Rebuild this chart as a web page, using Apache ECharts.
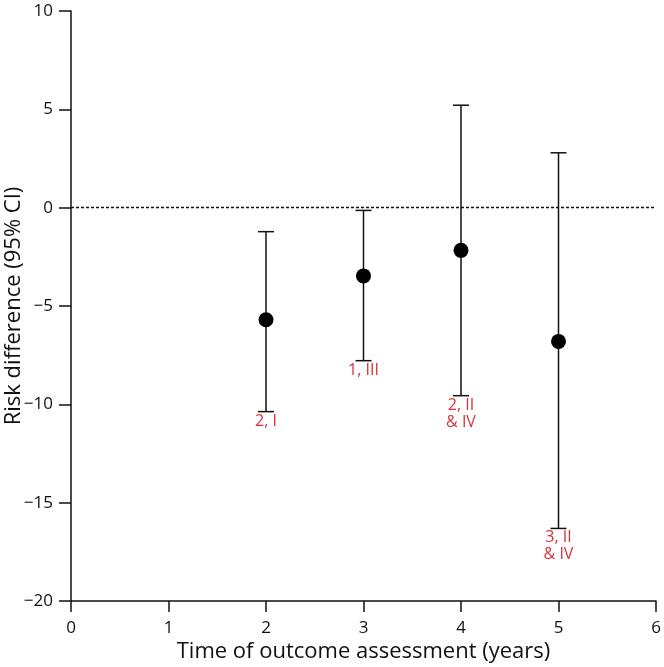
<!DOCTYPE html>
<html>
<head>
<meta charset="utf-8">
<script src="https://cdn.jsdelivr.net/npm/echarts@6/dist/echarts.min.js"></script>
<style>html,body{margin:0;padding:0;background:#fff}#c{width:664px;height:667px}</style>
</head>
<body>
<div id="c"></div>
<script>
// Data
const years = [2, 3, 4, 5];
const riskDiff = [-5.70, -3.47, -2.17, -6.80];
const ciLow = [-10.37, -7.78, -9.56, -16.31];
const ciHigh = [-1.22, -0.14, 5.21, 2.79];
const studyLabels = ['2, I', '1, III', '2, II\n& IV', '3, II\n& IV'];
const xTicks = [0, 1, 2, 3, 4, 5, 6];
const yTicks = [-20, -15, -10, -5, 0, 5, 10];

const FONT = '"Open Sans", "Noto Sans", sans-serif';
const INK = '#111';
const RED = '#d8313b';

const chart = echarts.init(document.getElementById('c'), null, {renderer: 'canvas'});
const errData = years.map((x, i) => [x, ciLow[i], ciHigh[i], i]);
const ptData = years.map((x, i) => [x, riskDiff[i]]);

chart.setOption({
  animation: false,
  backgroundColor: '#fff',
  grid: {left: 71, right: 8, top: 11, bottom: 66, containLabel: false, outerBoundsMode: 'none'},
  xAxis: {
    type: 'value', min: xTicks[0], max: xTicks[xTicks.length - 1], interval: 1,
    name: 'Time of outcome assessment (years)', nameLocation: 'middle', nameGap: 40,
    nameMoveOverlap: false,
    nameTextStyle: {fontFamily: FONT, fontSize: 22, color: INK},
    axisLine: {show: true, onZero: false, lineStyle: {color: INK, width: 1.5}},
    axisTick: {show: true, length: 11, lineStyle: {color: INK, width: 1.5}},
    axisLabel: {fontFamily: FONT, fontSize: 17, color: INK, margin: 19},
    splitLine: {show: false}
  },
  yAxis: {
    type: 'value', min: yTicks[0], max: yTicks[yTicks.length - 1], interval: 5,
    name: 'Risk difference (95% CI)', nameLocation: 'middle', nameGap: 46,
    nameMoveOverlap: false,
    nameTextStyle: {fontFamily: FONT, fontSize: 22, color: INK},
    axisLine: {show: true, onZero: false, lineStyle: {color: INK, width: 1.5}},
    axisTick: {show: true, length: 12, lineStyle: {color: INK, width: 1.5}},
    axisLabel: {fontFamily: FONT, fontSize: 17, color: INK, margin: 18,
      formatter: v => (v < 0 ? '\u2212' + Math.abs(v) : String(v))},
    splitLine: {show: false}
  },
  series: [
    {
      type: 'custom',
      data: errData,
      clip: false,
      z: 2,
      renderItem: function (params, api) {
        const x = api.value(0), lo = api.value(1), hi = api.value(2), idx = api.value(3);
        const pHi = api.coord([x, hi]);
        const pLo = api.coord([x, lo]);
        const hw = 8;
        const ls = {stroke: INK, lineWidth: 1.5};
        return {
          type: 'group',
          children: [
            {type: 'line', shape: {x1: pHi[0], y1: pHi[1], x2: pLo[0], y2: pLo[1]}, style: ls},
            {type: 'line', shape: {x1: pHi[0] - hw, y1: pHi[1], x2: pHi[0] + hw, y2: pHi[1]}, style: ls},
            {type: 'line', shape: {x1: pLo[0] - hw, y1: pLo[1], x2: pLo[0] + hw, y2: pLo[1]}, style: ls},
            {type: 'text', x: pLo[0], y: pLo[1] + 1,
              style: {text: studyLabels[idx], fill: RED, font: '16px ' + FONT,
                align: 'center', verticalAlign: 'top', lineHeight: 17}}
          ]
        };
      }
    },
    {
      type: 'scatter',
      data: ptData,
      symbol: 'circle',
      symbolSize: 15,
      z: 3,
      itemStyle: {color: '#000', opacity: 1},
      markLine: {
        silent: true, symbol: 'none', label: {show: false},
        lineStyle: {color: INK, type: [3, 2], width: 1.4, opacity: 1},
        data: [{yAxis: 0}]
      }
    }
  ]
});
</script>
</body>
</html>
